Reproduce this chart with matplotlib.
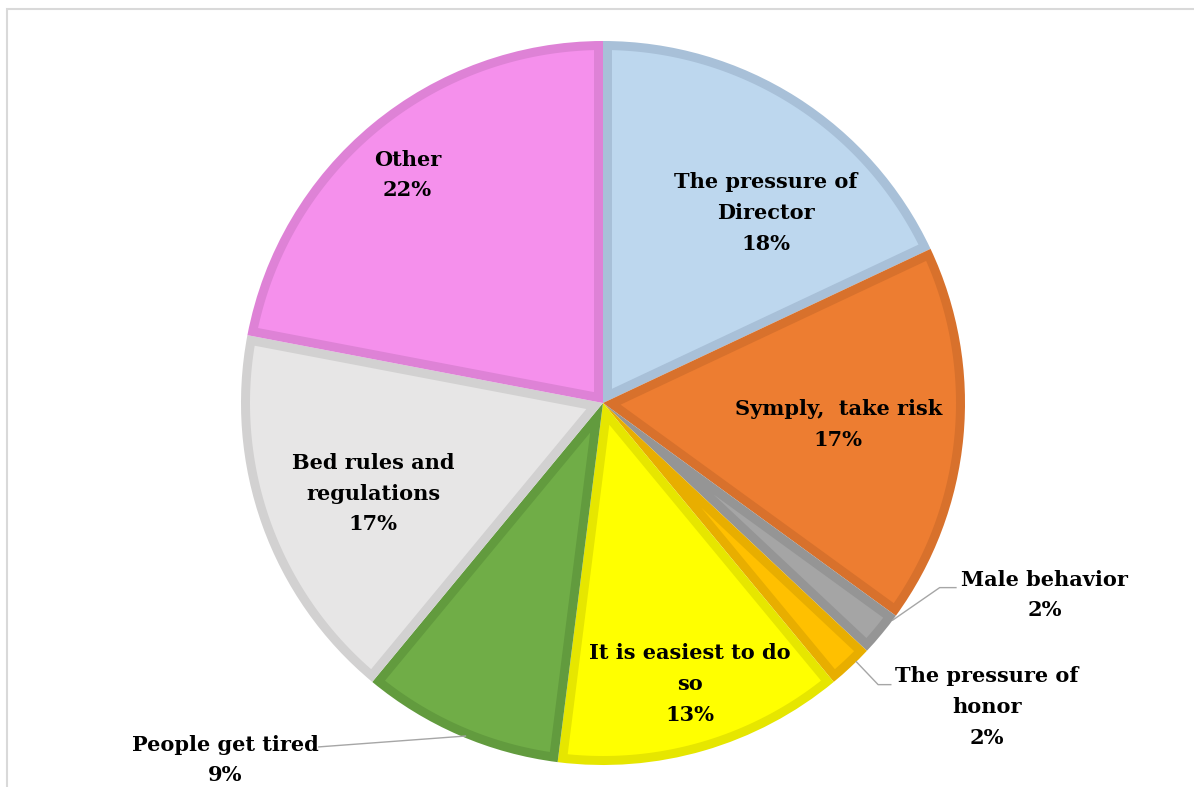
import numpy as np
import matplotlib.pyplot as plt
from matplotlib.patches import Rectangle, Polygon

labels = ['The pressure of\nDirector', 'Symply,  take risk', 'Male behavior',
          'The pressure of\nhonor', 'It is easiest to do\nso', 'People get tired',
          'Bed rules and\nregulations', 'Other']
values = [18, 17, 2, 2, 13, 9, 17, 22]
fills = ['#BDD7EE', '#ED7D31', '#A5A5A5', '#FFC000', '#FFFF00', '#70AD47', '#E7E6E6', '#F590EC']
borders = ['#A8C0D8', '#D8712C', '#959595', '#E8AE00', '#E6E600', '#629B3E', '#D2D1D1', '#DE82D6']

# label spots, in pie radius units
label_xy = [(0.45, 0.525), (0.65, -0.06), (1.22, -0.53), (1.06, -0.84),
            (0.24, -0.776), (-1.044, -0.986), (-0.635, -0.25), (-0.54, 0.63)]
# leader lines for the labels that sit outside the pie
leaders = {
    2: [(0.975, -0.51), (0.93, -0.51), (0.80, -0.60)],
    3: [(0.795, -0.778), (0.76, -0.778), (0.70, -0.715)],
    5: [(-0.785, -0.95), (-0.38, -0.92)],
}

PX = 362.0          # pixels per pie radius
BORDER = 9 / PX     # width of the darker rim inside every slice


def inset_wedge(w, d):
    """polygon of wedge w shrunk by d on every side"""
    R = w.r
    t1, t2 = np.radians(w.theta1), np.radians(w.theta2)
    half = (t2 - t1) / 2
    apex = d / np.sin(half)
    mid = t1 + half
    pts = [(apex * np.cos(mid), apex * np.sin(mid))]
    da = np.arcsin(d / (R - d))
    for a in np.linspace(t1 + da, t2 - da, 200):
        pts.append(((R - d) * np.cos(a), (R - d) * np.sin(a)))
    return Polygon(pts, closed=True)


plt.rcParams['font.family'] = ['DejaVu Serif']

fig = plt.figure(figsize=(11.94, 7.87), dpi=100)
ax = fig.add_axes([0, 0, 1, 1])

wedges, _ = ax.pie(values, colors=borders, startangle=90, counterclock=False,
                   radius=1.0, wedgeprops=dict(linewidth=0))
for w, c in zip(wedges, fills):
    p = inset_wedge(w, BORDER)
    p.set_facecolor(c)
    p.set_edgecolor('none')
    ax.add_patch(p)

for i, (lab, v) in enumerate(zip(labels, values)):
    x, y = label_xy[i]
    ax.text(x, y, '{}\n{}%'.format(lab, v), ha='center', va='center',
            fontsize=15, fontweight='bold', linespacing=1.67, color='black')

for i, pts in leaders.items():
    xs = [p[0] for p in pts]
    ys = [p[1] for p in pts]
    ax.plot(xs, ys, color='#A6A6A6', lw=1.0)

ax.set_xlim(-603 / PX, (1194 - 603) / PX)
ax.set_ylim(-(787 - 403) / PX, 403 / PX)
ax.set_aspect('auto')
ax.axis('off')

# thin chart frame
fig.patches.append(Rectangle((7 / 1194, -0.05), 1.2, 1.05 - 9 / 787, transform=fig.transFigure,
                             fill=False, edgecolor='#D9D9D9', lw=1.5))

plt.savefig('out.png', dpi=100)
